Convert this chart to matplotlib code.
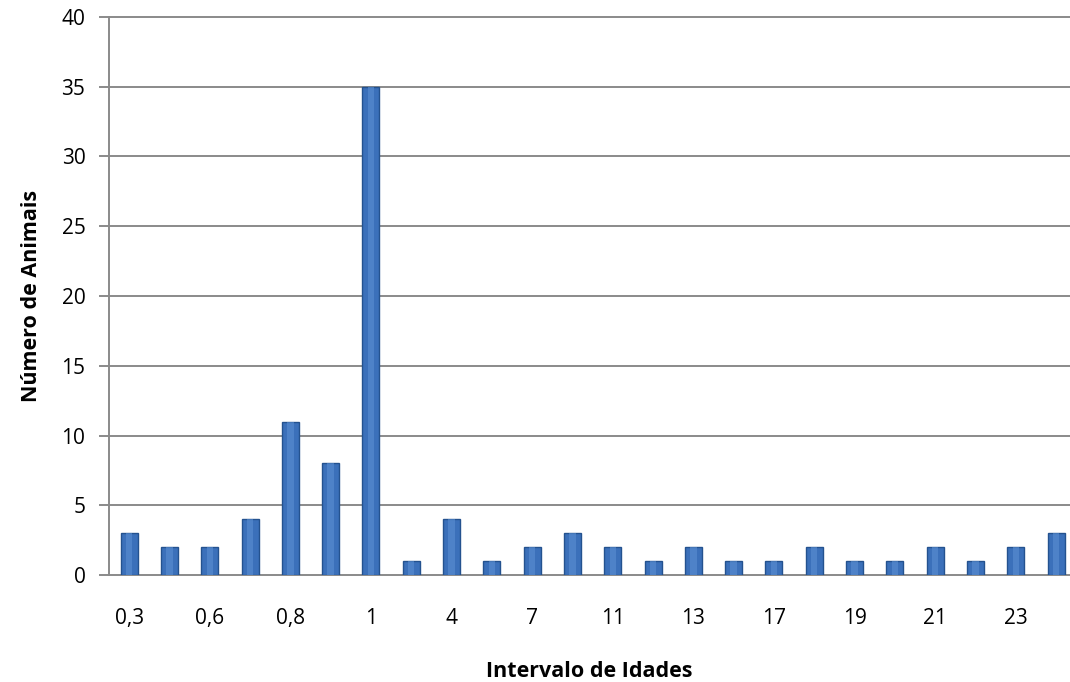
import matplotlib
matplotlib.use("Agg")
import matplotlib.pyplot as plt
import numpy as np

# faixas de idade (só metade aparece no eixo)
idades = ['0,3', '0,5', '0,6', '0,7', '0,8', '0,9', '1', '3', '4', '5', '7', '9',
          '11', '12', '13', '15', '17', '18', '19', '20', '21', '22', '23', '24']
animais = [3, 2, 2, 4, 11, 8, 35, 1, 4, 1, 2, 3, 2, 1, 2, 1, 1, 2, 1, 1, 2, 1, 2, 3]
y_ticks = [0, 5, 10, 15, 20, 25, 30, 35, 40]

plt.rcParams['font.family'] = ['Open Sans', 'DejaVu Sans']

fig = plt.figure(figsize=(10.7, 6.82), dpi=100)
ax = fig.add_axes([109 / 1070, 107 / 682, 1 - 109 / 1070, 558 / 682])

x = np.arange(len(idades))
cinza = '#8a8a8a'

# grade horizontal atrás das barras
for v in y_ticks:
    ax.axhline(v, color=cinza, lw=1.4, zorder=0, clip_on=False, xmin=-9 / 961)

ax.bar(x, animais, width=0.42, color='#3B70BA', edgecolor='#24528F', linewidth=1.0, zorder=3)
# brilho central para imitar o efeito de bisel
ax.bar(x, animais, width=0.16, color='#5B8FD3', linewidth=0, zorder=4, alpha=0.6)

ax.set_xlim(-0.5, -0.5 + 961 / 40.3)
ax.set_ylim(0, 40)
ax.set_yticks(y_ticks)
ax.set_xticks(x[::2])
ax.set_xticklabels(idades[::2])

for lado in ['top', 'right', 'bottom']:
    ax.spines[lado].set_visible(False)
ax.spines['left'].set_color(cinza)
ax.spines['left'].set_linewidth(1.4)

ax.tick_params(axis='x', length=0, pad=24, labelsize=15)
ax.tick_params(axis='y', length=0, pad=17, labelsize=15)

ax.set_xlabel('Intervalo de Idades', fontsize=15.5, fontweight='bold', labelpad=23)
ax.set_ylabel('Número de Animais', fontsize=15.5, fontweight='bold', labelpad=14)

fig.savefig('out.png', dpi=100)
